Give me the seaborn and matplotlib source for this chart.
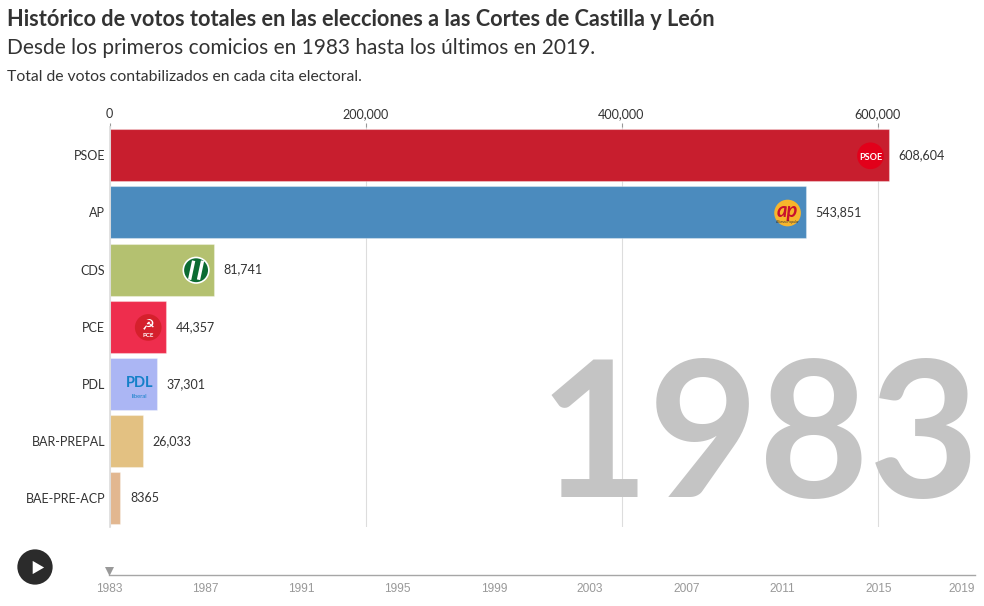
import pandas as pd
import matplotlib
matplotlib.use("Agg")
import matplotlib.pyplot as plt
import seaborn as sns
from matplotlib.offsetbox import AnnotationBbox, DrawingArea
from matplotlib.patches import Circle, Rectangle
from matplotlib.text import Text

# ---------------------------------------------------------------------------
# Data
# ---------------------------------------------------------------------------
parties = ["PSOE", "AP", "CDS", "PCE", "PDL", "BAR-PREPAL", "BAE-PRE-ACP"]
votes = [608604, 543851, 81741, 44357, 37301, 26033, 8365]
bar_colors = ["#c81e2e", "#4b8bbe", "#b4c170", "#ee2d4d", "#abb6f4", "#e3c182", "#e2b790"]

vote_ticks = [0, 200000, 400000, 600000]
years = [1983, 1987, 1991, 1995, 1999, 2003, 2007, 2011, 2015, 2019]

title = "Histórico de votos totales en las elecciones a las Cortes de Castilla y León"
subtitle = "Desde los primeros comicios en 1983 hasta los últimos en 2019."
note = "Total de votos contabilizados en cada cita electoral."

W, H = 984, 606
TEXT = "#333333"
FONT = "Lato"


def fx(x):
    return x / W


def fy(y):
    return 1 - y / H


sns.set_theme(style="white")
plt.rcParams["font.family"] = FONT

fig = plt.figure(figsize=(W / 100, H / 100), dpi=100)
fig.patch.set_facecolor("white")

# ---------------------------------------------------------------------------
# Heading
# ---------------------------------------------------------------------------
fig.text(fx(7), fy(26), title, fontsize=15.65, fontweight="bold", color=TEXT, va="baseline")
fig.text(fx(7), fy(54), subtitle, fontsize=15.05, color=TEXT, va="baseline")
fig.text(fx(7), fy(81), note, fontsize=11.3, color=TEXT, va="baseline")

# ---------------------------------------------------------------------------
# Bars
# ---------------------------------------------------------------------------
df = pd.DataFrame({"party": parties, "votes": votes})

ax = fig.add_axes([fx(109.5), fy(527), (975 - 109.5) / W, (527 - 126.5) / H])
sns.barplot(
    data=df, x="votes", y="party", hue="party", order=parties, hue_order=parties,
    palette=bar_colors, saturation=1, width=0.91, legend=False, ax=ax, zorder=2,
    edgecolor="#ffffff55", linewidth=0.8,
)
ax.set_xlim(0, 865.5 / 768 * 600000)
ax.set_ylim(6.5, -0.5)
ax.set_xlabel("")
ax.set_ylabel("")

for side in ["top", "right", "bottom"]:
    ax.spines[side].set_visible(False)
ax.spines["left"].set_color("#dddddd")

ax.set_xticks(vote_ticks)
ax.set_xticklabels([f"{v:,}" for v in vote_ticks])
ax.xaxis.tick_top()
ax.tick_params(axis="x", length=3, width=0.8, color="#999999", labelsize=9.1, labelcolor=TEXT, pad=1.5)
ax.tick_params(axis="y", length=0, labelsize=9.0, labelcolor=TEXT, pad=3)
ax.grid(axis="x", color="#dddddd", linewidth=0.8, zorder=0)
ax.set_axisbelow(True)

# value labels, small numbers have no thousands separator in the original
for i, v in enumerate(votes):
    label = f"{v:,}" if v >= 10000 else str(v)
    ax.annotate(label, (v, i), xytext=(7, 0), textcoords="offset points",
                va="center", ha="left", fontsize=9.0, color=TEXT)


# ---------------------------------------------------------------------------
# Party logos, simple stand-ins sitting at the end of each bar
# ---------------------------------------------------------------------------
def logo(kind):
    da = DrawingArea(20, 20, 0, 0)
    c = (10, 10)
    if kind == "PSOE":
        da.add_artist(Circle(c, 9.6, fc="#e2001a", ec="none"))
        da.add_artist(Text(10, 8.5, "PSOE", color="white", fontsize=6.6, fontweight="bold",
                           ha="center", va="center"))
    elif kind == "AP":
        da.add_artist(Circle(c, 9.6, fc="#f7b52c", ec="none"))
        da.add_artist(Text(10, 11.5, "ap", color="#c8102e", fontsize=14.5, fontweight="bold",
                           style="italic", ha="center", va="center"))
        da.add_artist(Text(10, 3.2, "Alianza Popular", color="#333333", fontsize=2.4,
                           ha="center", va="center"))
    elif kind == "CDS":
        da.add_artist(Circle(c, 9.8, fc="white", ec="none"))
        da.add_artist(Circle(c, 8.6, fc="#0b6b32", ec="none"))
        for dx in [-3.2, 3.2]:
            da.add_artist(Rectangle((10 + dx - 1.2, 3), 2.4, 14, angle=-12, fc="white", ec="none",
                                    rotation_point="center"))
    elif kind == "PCE":
        da.add_artist(Circle(c, 9.6, fc="#d5202c", ec="none"))
        da.add_artist(Text(10, 12, "\u262d", color="white", fontsize=10.5, family="DejaVu Sans",
                           ha="center", va="center"))
        da.add_artist(Text(10, 4, "PCE", color="white", fontsize=4.4, fontweight="bold",
                           ha="center", va="center"))
    elif kind == "PDL":
        da.add_artist(Text(10, 11.5, "PDL", color="#1480c8", fontsize=10.5, fontweight="bold",
                           ha="center", va="center"))
        da.add_artist(Text(10, 1.5, "liberal", color="#1480c8", fontsize=4.2,
                           ha="center", va="center"))
    return da


for i, party in enumerate(parties[:5]):
    ab = AnnotationBbox(logo(party), (votes[i], i), xybox=(-13, -0.5), xycoords="data",
                        boxcoords="offset points", frameon=False, pad=0, zorder=4)
    ax.add_artist(ab)

# ---------------------------------------------------------------------------
# Big year label
# ---------------------------------------------------------------------------
fig.text(fx(980), fy(497), str(years[0]), fontsize=137, fontweight="bold", color="#c4c4c4",
         ha="right", va="baseline")

# ---------------------------------------------------------------------------
# Timeline and play button
# ---------------------------------------------------------------------------
tl = fig.add_axes([fx(109), fy(575), (975 - 109) / W, 12 / H])
tl.patch.set_alpha(0)
tl.set_xlim(years[0], years[-1])
tl.set_ylim(0, 1)
for side in ["top", "left", "right"]:
    tl.spines[side].set_visible(False)
tl.spines["bottom"].set_color("#a6a6a6")
tl.spines["bottom"].set_linewidth(1)
tl.set_yticks([])
tl.set_xticks(years)
tl.set_xticklabels(years, family="Liberation Sans")
tl.tick_params(axis="x", length=3.6, width=0.8, color="#a6a6a6", labelsize=8.6,
               labelcolor="#999999", pad=2)
tl.get_xticklabels()[-1].set_ha("right")
tl.scatter([years[0]], [0.33], marker="v", s=42, color="#999999", linewidths=0, clip_on=False, zorder=3)

btn = fig.add_axes([fx(17), fy(585), 36 / W, 36 / H])
btn.set_xlim(-1, 1)
btn.set_ylim(-1, 1)
btn.axis("off")
btn.add_patch(Circle((0, 0), 0.98, fc="#2b2b2b", ec="none"))
btn.scatter([0.08], [0], marker=(3, 0, -90), s=120, color="white", linewidths=0, zorder=3)

fig.savefig("out.png", dpi=100, facecolor="white")
